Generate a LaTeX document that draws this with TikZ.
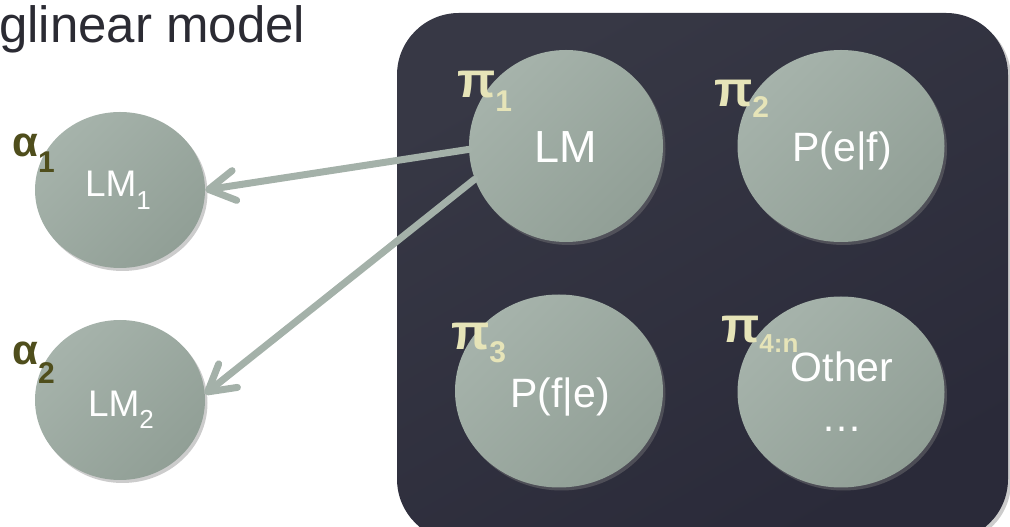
\documentclass[tikz,border=0pt]{standalone}
\usepackage{fontspec}
\setmainfont{Liberation Sans}
\usetikzlibrary{arrows.meta,shadows,shapes.geometric}
\definecolor{boxtop}{HTML}{373845}
\definecolor{boxbot}{HTML}{2A2A39}
\definecolor{sagelt}{HTML}{A6B3AB}
\definecolor{sagedk}{HTML}{919F96}
\definecolor{conncol}{HTML}{A4B1A9}
\definecolor{pilabcol}{HTML}{E6E4B8}
\definecolor{alabcol}{HTML}{4F4E1C}
\definecolor{titlecol}{HTML}{2B2B33}
\newcommand{\fsz}[1]{\fontsize{#1}{#1}\selectfont}
\begin{document}
\begin{tikzpicture}[x=1pt,y=1pt,
  model/.style={ellipse, inner sep=0pt, draw=none, top color=sagelt, bottom color=sagedk, shading angle=45,
    drop shadow={opacity=0.4, shadow xshift=2.5pt, shadow yshift=-3pt}},
  mtext/.style={inner sep=0pt, anchor=base, text=white},
  pilab/.style={inner sep=0pt, anchor=base west, text=pilabcol, font=\bfseries},
  alab/.style={inner sep=0pt, anchor=base west, text=alabcol, font=\bfseries},
  conn/.style={draw=conncol, line width=7pt, line cap=round,
    -{Straight Barb[length=26pt,width=30pt,round]}}
]
\useasboundingbox (0,0) rectangle (1010,527);
\clip (0,0) rectangle (1010,527);

% title
\node[inner sep=0pt, anchor=base west, text=titlecol] (title) at (-1,484) {\fsz{51}glinear model};

% dark panel
\path[top color=boxtop, bottom color=boxbot, shading angle=30, rounded corners=62pt,
  drop shadow={opacity=0.4, shadow xshift=3pt, shadow yshift=-3pt}]
  (397,514) rectangle (1008,-14);

% model circles (shapes)
\node[model, minimum width=170pt, minimum height=156pt] (LM1) at (120,337) {};
\node[model, minimum width=170pt, minimum height=160pt] (LM2) at (120,127) {};
\node[model, minimum width=194pt, minimum height=192pt] (LM) at (566,381) {};
\node[model, minimum width=207pt, minimum height=192pt] (Pef) at (841,381) {};
\node[model, minimum width=208pt, minimum height=193pt] (Pfe) at (559,136) {};
\node[model, minimum width=207pt, minimum height=191pt] (Oth) at (841,135) {};

% connectors
\draw[conn] (LM.182) -- (LM1.east);
\draw[conn] (LM.200) -- (LM2.4);

% circle texts
\node[mtext] (tLM1) at (118,330) {\fsz{37}LM\raisebox{-13pt}{\fsz{26}1}};
\node[mtext] (tLM2) at (121,110) {\fsz{37}LM\raisebox{-12pt}{\fsz{26}2}};
\node[mtext] (tLM) at (566,364) {\fsz{45}LM};
\node[mtext] (tPef) at (842,365) {\fsz{41}P(e|f)};
\node[mtext] (tPfe) at (560,119) {\fsz{41}P(f|e)};
\node[mtext] (tOth) at (842,145) {\fsz{41}Other};
\node[mtext] (tDots) at (842,95) {\fsz{41}…};

% weight labels
\node[alab] (a1) at (12,370) {\fsz{42}α\raisebox{-16pt}{\fsz{30}1}};
\node[alab] (a2) at (12,162) {\fsz{42}α\raisebox{-19pt}{\fsz{30}2}};
\node[pilab] (p1) at (457,429) {\fsz{50}π\raisebox{-14pt}{\fsz{30}1}};
\node[pilab] (p2) at (714,420) {\fsz{50}π\raisebox{-11pt}{\fsz{30}2}};
\node[pilab] (p3) at (451,177) {\fsz{50}π\raisebox{-13pt}{\fsz{30}3}};
\node[pilab] (p4) at (721,184) {\fsz{50}π\raisebox{-10pt}{\fsz{26}4:n}};
\end{tikzpicture}
\end{document}
